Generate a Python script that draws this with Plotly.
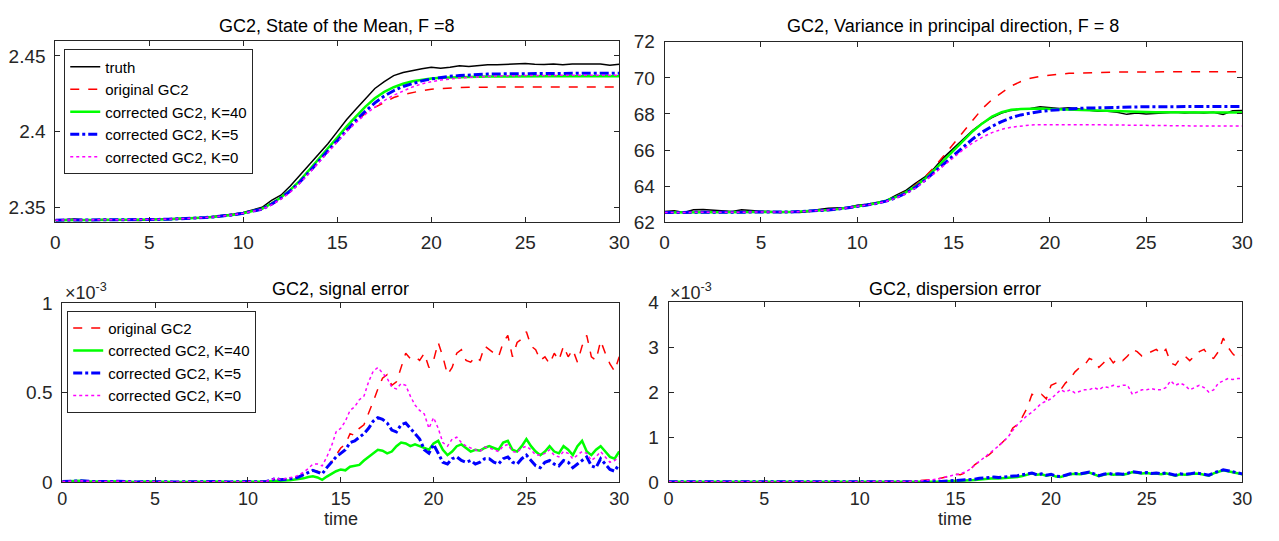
import numpy as np
import plotly.graph_objects as go

W, H = 1279, 541

# ---------------- time grids ----------------
t_top = np.arange(0, 30.001, 0.5)
t_err = np.concatenate([np.arange(0, 10.51, 0.5), np.arange(11, 30.001, 0.25)])

# ---------------- top-left: state of the mean ----------------
mean_early = [2.3415, 2.3415, 2.3415, 2.3415, 2.3416, 2.3416, 2.3416, 2.3417, 2.3417, 2.3418, 2.3419,
              2.3420, 2.3421, 2.3423, 2.3425, 2.3428, 2.3432, 2.3437, 2.3443, 2.3451, 2.3461, 2.3474]
mean_truth = [2.3415, 2.3420, 2.3422, 2.3418, 2.3416, 2.3420, 2.3417, 2.3419, 2.3415, 2.3412, 2.3420,
              2.3422, 2.3420, 2.3423, 2.3426, 2.3430, 2.3433, 2.3440, 2.3446, 2.3455, 2.3465, 2.3480,
              2.3500, 2.3545, 2.3580, 2.3640, 2.3710, 2.3780, 2.3850, 2.3920, 2.4000,
              2.4080, 2.4150, 2.4220, 2.4285, 2.4330, 2.4370, 2.4390, 2.4405, 2.4415, 2.4425,
              2.4418, 2.4425, 2.4435, 2.4430, 2.4438, 2.4442, 2.4441, 2.4445, 2.4448, 2.4450,
              2.4445, 2.4443, 2.4446, 2.4442, 2.4446, 2.4448, 2.4445, 2.4447, 2.4438, 2.4445]
mean_orig = mean_early + [
    2.3488, 2.3518, 2.3555, 2.3605, 2.3665, 2.3735, 2.3810, 2.3885, 2.3955,
    2.4015, 2.4070, 2.4120, 2.4160, 2.4195, 2.4225, 2.4245, 2.4260, 2.4270, 2.4280,
    2.4285, 2.4289, 2.4291, 2.4293, 2.4294, 2.4295, 2.4295, 2.4295, 2.4295, 2.4295,
    2.4295, 2.4295, 2.4295, 2.4295, 2.4295, 2.4295, 2.4295, 2.4295, 2.4295, 2.4295]
mean_k40 = mean_early + [
    2.3490, 2.3525, 2.3565, 2.3615, 2.3675, 2.3745, 2.3820, 2.3890, 2.3960,
    2.4035, 2.4100, 2.4165, 2.4220, 2.4262, 2.4293, 2.4316, 2.4332, 2.4343, 2.4350,
    2.4355, 2.4358, 2.4360, 2.4362, 2.4363, 2.4364, 2.4365, 2.4365, 2.4365, 2.4365,
    2.4365, 2.4365, 2.4365, 2.4365, 2.4365, 2.4365, 2.4365, 2.4365, 2.4365, 2.4365]
mean_k5 = mean_early + [
    2.3488, 2.3520, 2.3560, 2.3608, 2.3665, 2.3732, 2.3805, 2.3873, 2.3940,
    2.4010, 2.4075, 2.4135, 2.4190, 2.4235, 2.4270, 2.4298, 2.4318, 2.4335, 2.4348,
    2.4358, 2.4365, 2.4370, 2.4374, 2.4377, 2.4380, 2.4381, 2.4382, 2.4383, 2.4384,
    2.4385, 2.4385, 2.4386, 2.4386, 2.4386, 2.4386, 2.4386, 2.4386, 2.4386, 2.4386]
mean_k0 = mean_early + [
    2.3486, 2.3516, 2.3553, 2.3600, 2.3658, 2.3725, 2.3795, 2.3865, 2.3935,
    2.4000, 2.4060, 2.4115, 2.4162, 2.4205, 2.4240, 2.4270, 2.4295, 2.4315, 2.4330,
    2.4340, 2.4348, 2.4354, 2.4358, 2.4362, 2.4365, 2.4367, 2.4369, 2.4370, 2.4371,
    2.4372, 2.4372, 2.4372, 2.4372, 2.4372, 2.4372, 2.4372, 2.4372, 2.4372, 2.4372]

# ---------------- top-right: variance in principal direction ----------------
var_early = [62.55, 62.55, 62.54, 62.54, 62.54, 62.54, 62.54, 62.54, 62.55, 62.55, 62.55,
             62.56, 62.57, 62.58, 62.60, 62.62, 62.65, 62.69, 62.74, 62.80, 62.88, 62.96]
var_truth = [62.60, 62.65, 62.55, 62.70, 62.72, 62.68, 62.66, 62.60, 62.70, 62.65, 62.62,
             62.60, 62.55, 62.58, 62.55, 62.60, 62.72, 62.78, 62.80, 62.82, 62.95, 63.00,
             63.10, 63.20, 63.50, 63.75, 64.15, 64.50, 65.00, 65.60, 66.10,
             66.60, 67.10, 67.50, 67.80, 68.05, 68.20, 68.28, 68.30, 68.40, 68.35,
             68.30, 68.35, 68.28, 68.22, 68.15, 68.15, 68.10, 67.98, 68.05, 68.00,
             68.02, 68.05, 68.10, 68.05, 68.08, 68.05, 68.10, 67.98, 68.18, 68.20]
var_orig = var_early + [
    63.06, 63.20, 63.42, 63.70, 64.05, 64.50, 65.05, 65.70, 66.40,
    67.05, 67.70, 68.30, 68.80, 69.20, 69.55, 69.80, 69.98, 70.08, 70.16,
    70.21, 70.25, 70.27, 70.29, 70.30, 70.31, 70.32, 70.32, 70.33, 70.33,
    70.34, 70.34, 70.34, 70.34, 70.34, 70.34, 70.34, 70.34, 70.34, 70.34]
var_k40 = var_early + [
    63.06, 63.20, 63.40, 63.65, 63.98, 64.40, 64.90, 65.45, 66.00,
    66.55, 67.05, 67.48, 67.85, 68.10, 68.23, 68.28, 68.30, 68.30, 68.28,
    68.26, 68.24, 68.21, 68.19, 68.17, 68.15, 68.14, 68.13, 68.12, 68.11,
    68.10, 68.10, 68.09, 68.09, 68.08, 68.08, 68.08, 68.08, 68.08, 68.08]
var_k5 = var_early + [
    63.05, 63.18, 63.36, 63.60, 63.92, 64.32, 64.78, 65.25, 65.72,
    66.18, 66.62, 67.00, 67.32, 67.58, 67.80, 67.95, 68.06, 68.14, 68.20,
    68.25, 68.28, 68.31, 68.33, 68.35, 68.36, 68.37, 68.38, 68.39, 68.40,
    68.40, 68.41, 68.41, 68.41, 68.42, 68.42, 68.42, 68.42, 68.42, 68.42]
var_k0 = var_early + [
    63.04, 63.16, 63.34, 63.57, 63.88, 64.27, 64.70, 65.15, 65.60,
    66.02, 66.40, 66.72, 66.97, 67.15, 67.27, 67.35, 67.39, 67.41, 67.42,
    67.42, 67.42, 67.41, 67.41, 67.40, 67.39, 67.38, 67.37, 67.37, 67.36,
    67.36, 67.35, 67.35, 67.35, 67.34, 67.34, 67.34, 67.33, 67.33, 67.33]

# ---------------- bottom-left: signal error (x 1e-3) ----------------
sig_early = [0.002, 0.004, 0.006, 0.003, 0.001, 0.002, 0.004, 0.001, 0.000, 0.002, 0.003,
             0.001, 0.000, 0.001, 0.002, 0.000, 0.001, 0.002, 0.000, 0.003, 0.002, 0.001]
sig_orig = sig_early + [
    0.003, 0.010, 0.020, 0.012, 0.015, 0.018, 0.025, 0.030,
    0.045, 0.055, 0.065, 0.060, 0.050, 0.080, 0.110, 0.150,
    0.190, 0.210, 0.270, 0.260, 0.300, 0.320, 0.380, 0.450,
    0.520, 0.580, 0.600, 0.540, 0.560, 0.640, 0.720, 0.690,
    0.700, 0.680, 0.720, 0.640, 0.680, 0.780, 0.700, 0.600,
    0.640, 0.720, 0.740, 0.680, 0.670, 0.700, 0.680, 0.760,
    0.740, 0.720, 0.700, 0.780, 0.820, 0.700, 0.780, 0.800,
    0.840, 0.760, 0.740, 0.680, 0.700, 0.660, 0.720, 0.680,
    0.760, 0.700, 0.740, 0.670, 0.760, 0.820, 0.700, 0.680,
    0.790, 0.720, 0.660, 0.620, 0.700]
sig_k40 = sig_early + [
    0.002, 0.004, 0.006, 0.005, 0.008, 0.010, 0.012, 0.015,
    0.020, 0.028, 0.032, 0.025, 0.012, 0.030, 0.045, 0.060,
    0.070, 0.065, 0.085, 0.090, 0.095, 0.120, 0.140, 0.160,
    0.180, 0.175, 0.160, 0.170, 0.200, 0.220, 0.215, 0.200,
    0.210, 0.200, 0.190, 0.180, 0.215, 0.230, 0.180, 0.150,
    0.170, 0.200, 0.210, 0.190, 0.170, 0.180, 0.175, 0.190,
    0.200, 0.190, 0.180, 0.220, 0.230, 0.180, 0.170, 0.200,
    0.240, 0.200, 0.170, 0.150, 0.170, 0.200, 0.170, 0.160,
    0.200, 0.180, 0.150, 0.200, 0.230, 0.170, 0.150, 0.180,
    0.200, 0.170, 0.140, 0.130, 0.170]
sig_k5 = sig_early + [
    0.003, 0.010, 0.020, 0.012, 0.014, 0.016, 0.020, 0.028,
    0.040, 0.055, 0.065, 0.055, 0.045, 0.080, 0.110, 0.140,
    0.160, 0.180, 0.220, 0.230, 0.250, 0.270, 0.300, 0.340,
    0.360, 0.350, 0.330, 0.290, 0.280, 0.320, 0.330, 0.300,
    0.270, 0.240, 0.180, 0.160, 0.210, 0.160, 0.110, 0.100,
    0.130, 0.140, 0.120, 0.110, 0.120, 0.100, 0.110, 0.130,
    0.130, 0.110, 0.100, 0.130, 0.140, 0.110, 0.100, 0.130,
    0.150, 0.120, 0.090, 0.080, 0.110, 0.120, 0.100, 0.090,
    0.120, 0.110, 0.080, 0.100, 0.120, 0.140, 0.090, 0.080,
    0.130, 0.100, 0.070, 0.060, 0.100]
sig_k0 = sig_early + [
    0.004, 0.012, 0.022, 0.014, 0.018, 0.022, 0.028, 0.040,
    0.055, 0.075, 0.100, 0.100, 0.090, 0.140, 0.200, 0.280,
    0.300, 0.340, 0.400, 0.420, 0.460, 0.480, 0.560, 0.620,
    0.640, 0.610, 0.580, 0.530, 0.520, 0.550, 0.540, 0.480,
    0.430, 0.400, 0.380, 0.300, 0.360, 0.300, 0.220, 0.200,
    0.240, 0.250, 0.220, 0.200, 0.190, 0.180, 0.170, 0.195,
    0.190, 0.180, 0.170, 0.200, 0.210, 0.170, 0.165, 0.190,
    0.200, 0.180, 0.150, 0.150, 0.160, 0.180, 0.150, 0.140,
    0.170, 0.160, 0.130, 0.150, 0.170, 0.160, 0.120, 0.140,
    0.170, 0.140, 0.110, 0.120, 0.140]

# ---------------- bottom-right: dispersion error (x 1e-3) ----------------
disp_early = [0.003, 0.004, 0.002, 0.005, 0.003, 0.002, 0.004, 0.003, 0.002, 0.003, 0.004,
              0.002, 0.003, 0.002, 0.004, 0.003, 0.002, 0.003, 0.002, 0.004, 0.003, 0.002]
disp_orig = disp_early + [
    0.002, 0.004, 0.003, 0.005, 0.006, 0.008, 0.010, 0.015,
    0.020, 0.030, 0.040, 0.050, 0.060, 0.080, 0.110, 0.150,
    0.170, 0.160, 0.200, 0.260, 0.380, 0.450, 0.540, 0.600,
    0.700, 0.780, 0.900, 1.000, 1.200, 1.280, 1.450, 1.650,
    1.950, 1.900, 1.950, 1.850, 2.150, 2.200, 2.050, 2.200,
    2.300, 2.450, 2.550, 2.600, 2.750, 2.700, 2.550, 2.650,
    2.800, 2.650, 2.750, 2.700, 2.800, 2.950, 2.900, 2.800,
    2.850, 2.900, 2.950, 2.850, 2.950, 2.650, 2.600, 2.750,
    2.800, 2.700, 2.800, 2.900, 2.950, 2.800, 2.750, 2.900,
    3.200, 3.000, 2.850, 2.750, 2.800]
disp_k40 = disp_early + [
    0.001, 0.001, 0.001, 0.001, 0.001, 0.001, 0.001, 0.002,
    0.002, 0.003, 0.003, 0.004, 0.005, 0.008, 0.010, 0.012,
    0.014, 0.018, 0.025, 0.035, 0.045, 0.055, 0.065, 0.075,
    0.080, 0.075, 0.080, 0.085, 0.090, 0.110, 0.130, 0.160,
    0.190, 0.160, 0.170, 0.140, 0.160, 0.120, 0.110, 0.140,
    0.170, 0.180, 0.170, 0.190, 0.210, 0.170, 0.130, 0.160,
    0.180, 0.160, 0.170, 0.160, 0.180, 0.220, 0.200, 0.190,
    0.200, 0.180, 0.190, 0.170, 0.190, 0.160, 0.140, 0.170,
    0.160, 0.170, 0.190, 0.180, 0.160, 0.140, 0.190, 0.220,
    0.260, 0.240, 0.220, 0.190, 0.170]
disp_k5 = disp_early + [
    0.001, 0.001, 0.001, 0.001, 0.001, 0.002, 0.002, 0.003,
    0.003, 0.004, 0.005, 0.006, 0.008, 0.012, 0.018, 0.022,
    0.025, 0.030, 0.040, 0.050, 0.060, 0.080, 0.090, 0.100,
    0.110, 0.100, 0.110, 0.110, 0.120, 0.140, 0.160, 0.180,
    0.200, 0.160, 0.180, 0.150, 0.170, 0.130, 0.120, 0.150,
    0.180, 0.190, 0.180, 0.200, 0.220, 0.180, 0.140, 0.170,
    0.190, 0.170, 0.180, 0.170, 0.190, 0.230, 0.210, 0.200,
    0.210, 0.190, 0.200, 0.180, 0.200, 0.170, 0.150, 0.180,
    0.170, 0.180, 0.200, 0.190, 0.170, 0.150, 0.200, 0.230,
    0.270, 0.250, 0.230, 0.200, 0.180]
disp_k0 = disp_early + [
    0.002, 0.003, 0.003, 0.004, 0.005, 0.007, 0.010, 0.014,
    0.018, 0.028, 0.038, 0.048, 0.060, 0.080, 0.110, 0.140,
    0.160, 0.180, 0.220, 0.280, 0.380, 0.460, 0.540, 0.620,
    0.720, 0.800, 0.900, 1.000, 1.150, 1.280, 1.380, 1.480,
    1.550, 1.650, 1.750, 1.800, 1.850, 1.950, 2.050, 2.000,
    2.050, 1.980, 2.020, 2.050, 2.050, 2.100, 2.050, 2.120,
    2.100, 2.150, 2.120, 2.150, 2.150, 1.950, 2.000, 2.050,
    2.050, 2.080, 2.050, 2.050, 2.100, 2.250, 2.150, 2.200,
    2.150, 2.050, 2.100, 2.150, 2.100, 2.000, 2.050, 2.200,
    2.250, 2.300, 2.280, 2.300, 2.300]

# ---------------- labels ----------------
titles = ["GC2, State of the Mean, F =8", "GC2, Variance in principal direction, F = 8",
          "GC2, signal error", "GC2, dispersion error"]
names = ["truth", "original GC2", "corrected GC2, K=40", "corrected GC2, K=5", "corrected GC2, K=0"]
x_ticks = [0, 5, 10, 15, 20, 25, 30]

FONT = "Liberation Sans"
AX = "#262626"
styles = {
    "truth": dict(color="black", width=1.5, dash="solid"),
    "original GC2": dict(color="#ff0000", width=1.5, dash="dash"),
    "corrected GC2, K=40": dict(color="#00ff00", width=2.5, dash="solid"),
    "corrected GC2, K=5": dict(color="#0000ff", width=3, dash="dashdot"),
    "corrected GC2, K=0": dict(color="#ff00ff", width=1.5, dash="dot"),
}

fig = go.Figure()

def add(x, y, name, xa, ya, legend=None, show=False):
    fig.add_trace(go.Scatter(x=x, y=y, mode="lines", name=name, line=styles[name],
                             xaxis=xa, yaxis=ya, showlegend=show,
                             legend=legend if legend else "legend"))

for y, n in zip([mean_truth, mean_orig, mean_k40, mean_k5, mean_k0], names):
    add(t_top, y, n, "x", "y", "legend", True)
for y, n in zip([var_truth, var_orig, var_k40, var_k5, var_k0], names):
    add(t_top, y, n, "x2", "y2")
for y, n in zip([sig_orig, sig_k40, sig_k5, sig_k0], names[1:]):
    add(t_err, y, n, "x3", "y3", "legend2", True)
for y, n in zip([disp_orig, disp_k40, disp_k5, disp_k0], names[1:]):
    add(t_err, y, n, "x4", "y4")

def px_x(a, b):
    return [a / W, b / W]

def px_y(top, bot):
    return [1 - bot / H, 1 - top / H]

axis_common = dict(showline=True, mirror="ticks", linecolor=AX, linewidth=1, ticks="inside",
                   ticklen=5, tickcolor=AX, showgrid=False, zeroline=False,
                   tickfont=dict(family=FONT, size=19, color=AX))

doms = {
    1: (px_x(51, 622), px_y(32, 221)),
    2: (px_x(668, 1253), px_y(33, 221)),
    3: (px_x(58, 622), px_y(305, 491)),
    4: (px_x(672, 1253), px_y(304, 491)),
}
yranges = {1: [2.34, 2.46], 2: [62, 72], 3: [0, 1], 4: [0, 4]}
yticks = {1: ([2.35, 2.4, 2.45], ["2.35", "2.4", "2.45"]),
          2: ([62, 64, 66, 68, 70, 72], ["62", "64", "66", "68", "70", "72"]),
          3: ([0, 0.5, 1], ["0", "0.5", "1"]),
          4: ([0, 1, 2, 3, 4], ["0", "1", "2", "3", "4"])}

lay = {}
for i in range(1, 5):
    sx = "" if i == 1 else str(i)
    xd, yd = doms[i]
    xa = dict(axis_common, domain=xd, range=[0, 30], tickvals=x_ticks,
              anchor="y" + sx, ticklabelstandoff=3)
    if i >= 3:
        xa["ticklabelstandoff"] = 0
        xa["tickfont"] = dict(family=FONT, size=18, color=AX)
    lay["xaxis" + sx] = xa
    lay["yaxis" + sx] = dict(axis_common, domain=yd, range=yranges[i], tickvals=yticks[i][0],
                             ticktext=yticks[i][1], anchor="x" + sx, ticklabelstandoff=5)

ann = []
title_pos = [((51 + 622) / 2, 17), ((668 + 1253) / 2, 17), ((58 + 622) / 2, 290), ((672 + 1253) / 2, 290)]
for (cx, cy), tt in zip(title_pos, titles):
    ann.append(dict(text=tt, x=cx / W, y=1 - cy / H, xref="paper", yref="paper",
                    xanchor="center", yanchor="middle", showarrow=False,
                    font=dict(family=FONT, size=18, color="black")))
for cx in [(58 + 622) / 2, (672 + 1253) / 2]:
    ann.append(dict(text="time", x=cx / W, y=0, xref="paper", yref="paper",
                    xanchor="center", yanchor="bottom", showarrow=False, borderpad=0,
                    font=dict(family=FONT, size=18, color=AX)))
for lx in [59, 671]:
    ann.append(dict(text="\u00d710<sup>-3</sup>", x=lx / W, y=1 - 293 / H, xref="paper", yref="paper",
                    xanchor="left", yanchor="middle", showarrow=False,
                    font=dict(family=FONT, size=18, color=AX)))

legend_common = dict(bgcolor="white", bordercolor=AX, borderwidth=1,
                     font=dict(family=FONT, size=15, color="black"),
                     xanchor="left", yanchor="top", xref="paper", yref="paper",
                     tracegroupgap=0, itemwidth=30)

fig.update_layout(
    width=W, height=H, margin=dict(l=0, r=0, t=0, b=0),
    paper_bgcolor="white", plot_bgcolor="white",
    showlegend=True,
    legend=dict(legend_common, x=60 / W, y=1 - 41 / H),
    legend2=dict(legend_common, x=63 / W, y=1 - 313 / H),
    annotations=ann,
    **lay,
)

fig.write_html("out.html")
